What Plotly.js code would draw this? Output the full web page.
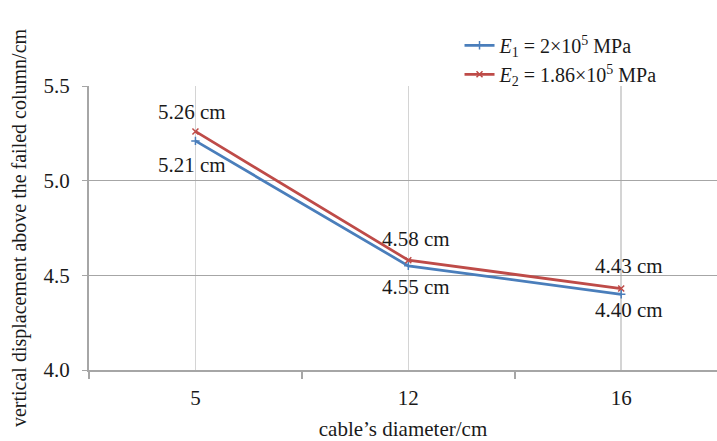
<!DOCTYPE html>
<html>
<head>
<meta charset="utf-8">
<script src="https://cdn.plot.ly/plotly-3.0.1.min.js"></script>
<style>html,body{margin:0;padding:0;background:#fff;}#chart{width:717px;height:441px;}</style>
</head>
<body>
<div id="chart"></div>
<script>
// Data
const diameters = ["5", "12", "16"];
const dispE1 = [5.21, 4.55, 4.40];
const dispE2 = [5.26, 4.58, 4.43];
const seriesNames = ["<i>E</i><sub>1</sub> = 2×10<sup>5</sup> MPa", "<i>E</i><sub>2</sub> = 1.86×10<sup>5</sup> MPa"];
const yTicks = [4.0, 4.5, 5.0, 5.5];

const xIdx = diameters.map((d, i) => i);
const FONT = "Liberation Serif, serif";
const blue = "#4a7ebb", red = "#be4b48";
const TXT = "#1a1a1a";

const traces = [
  {x: xIdx, y: dispE1, name: seriesNames[0], type: "scatter", mode: "lines+markers",
   line: {color: blue, width: 2.75}, marker: {symbol: "cross-thin", size: 6, line: {color: blue, width: 1.5}}},
  {x: xIdx, y: dispE2, name: seriesNames[1], type: "scatter", mode: "lines+markers",
   line: {color: red, width: 2.75}, marker: {symbol: "x-thin", size: 6, line: {color: red, width: 1.5}}}
];

// label offsets (style)
const shiftE1 = [[-3, -24], [8, -21], [8, -16]];
const shiftE2 = [[-3, 19], [8, 21], [8, 23]];
const annotations = [];
xIdx.forEach((x, i) => {
  annotations.push({x: x, y: dispE1[i], xref: "x", yref: "y", text: dispE1[i].toFixed(2) + " cm",
    showarrow: false, xshift: shiftE1[i][0], yshift: shiftE1[i][1], font: {family: FONT, size: 21, color: TXT}});
  annotations.push({x: x, y: dispE2[i], xref: "x", yref: "y", text: dispE2[i].toFixed(2) + " cm",
    showarrow: false, xshift: shiftE2[i][0], yshift: shiftE2[i][1], font: {family: FONT, size: 21, color: TXT}});
});

const layout = {
  width: 717, height: 441,
  margin: {l: 89, r: 0, t: 86, b: 71},
  paper_bgcolor: "#fff", plot_bgcolor: "#fff",
  font: {family: FONT, size: 21, color: TXT},
  showlegend: true,
  legend: {x: 0.59, y: 1.212, xanchor: "left", yanchor: "top", bgcolor: "rgba(0,0,0,0)",
    font: {family: FONT, size: 20, color: TXT}, tracegroupgap: 0, itemwidth: 30},
  xaxis: {
    range: [-0.5, 2.45], tickmode: "array", tickvals: xIdx, ticktext: diameters,
    showgrid: true, gridcolor: "#d4d4d4", gridwidth: 1.5, ticks: "", zeroline: false,
    showline: true, linecolor: "#a6a6a6", linewidth: 2, ticklabelstandoff: 8,
    minor: {tick0: 0.5, dtick: 1, ticks: "outside", ticklen: 7, tickcolor: "#a6a6a6", tickwidth: 1.5, showgrid: false},
    tickfont: {family: FONT, size: 21, color: TXT},
    title: {text: "cable’s diameter/cm", font: {family: FONT, size: 21, color: TXT}, standoff: 14},
    fixedrange: true
  },
  yaxis: {
    range: [4.0, 5.5], tickmode: "array", tickvals: yTicks, ticktext: yTicks.map(v => v.toFixed(1)),
    showgrid: true, gridcolor: "#a6a6a6", gridwidth: 1.5, zeroline: false,
    showline: true, linecolor: "#a6a6a6", linewidth: 2, ticks: "outside", ticklen: 5, tickcolor: "#a6a6a6",
    ticklabelstandoff: 8,
    tickfont: {family: FONT, size: 21, color: TXT},
    title: {text: "vertical displacement above the failed column/cm", font: {family: FONT, size: 20, color: TXT}, standoff: 12},
    fixedrange: true
  },
  annotations: annotations
};

Plotly.newPlot("chart", traces, layout, {staticPlot: true, displayModeBar: false});
</script>
</body>
</html>
